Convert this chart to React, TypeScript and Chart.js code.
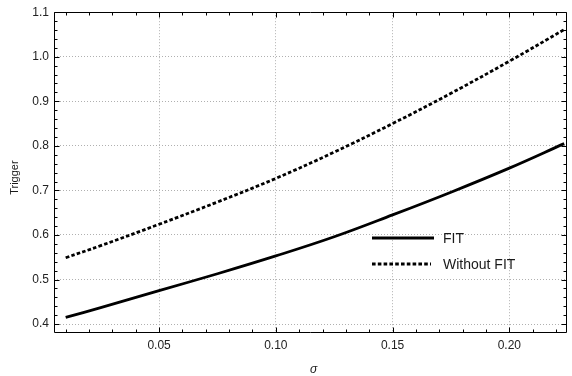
import React, { useEffect, useRef } from "react";
import { Chart, registerables } from "chart.js";

Chart.register(...registerables);

const sigma = [0.01, 0.025, 0.05, 0.075, 0.10, 0.125, 0.15, 0.175, 0.20, 0.2235];
const fit = [0.415, 0.437, 0.475, 0.513, 0.553, 0.596, 0.645, 0.696, 0.750, 0.805];
const withoutFit = [0.549, 0.576, 0.624, 0.674, 0.727, 0.786, 0.850, 0.918, 0.990, 1.061];

const xMajorTicks = [0.05, 0.10, 0.15, 0.20];
const yMajorTicks = [0.4, 0.5, 0.6, 0.7, 0.8, 0.9, 1.0, 1.1];
const xMinorTicks = [0.01, 0.02, 0.03, 0.04, 0.06, 0.07, 0.08, 0.09, 0.11, 0.12, 0.13, 0.14, 0.16, 0.17, 0.18, 0.19, 0.21, 0.22];
const yMinorTicks = [0.42, 0.44, 0.46, 0.48, 0.52, 0.54, 0.56, 0.58, 0.62, 0.64, 0.66, 0.68, 0.72, 0.74, 0.76, 0.78, 0.82, 0.84, 0.86, 0.88, 0.92, 0.94, 0.96, 0.98, 1.02, 1.04, 1.06, 1.08];

const seriesNames = ["FIT", "Without FIT"];
const xTitle = "σ";
const yTitle = "Trigger";

const FONT = "'Liberation Sans', Arial, sans-serif";

const framePlugin = {
  id: "framePlugin",
  afterDraw(chart: any) {
    const ctx = chart.ctx;
    const { left, right, top, bottom } = chart.chartArea;
    const xs = chart.scales.x;
    const ys = chart.scales.y;
    ctx.save();
    ctx.strokeStyle = "#000";
    ctx.lineWidth = 1;
    ctx.setLineDash([]);
    const L = Math.round(left) + 0.5;
    const R = Math.round(right) - 0.5;
    const T = Math.round(top) + 0.5;
    const B = Math.round(bottom) - 0.5;
    ctx.beginPath();
    ctx.rect(L, T, R - L, B - T);
    ctx.stroke();
    ctx.beginPath();
    const xt = (v: number, len: number) => {
      const px = Math.round(xs.getPixelForValue(v)) + 0.5;
      ctx.moveTo(px, B);
      ctx.lineTo(px, B - len);
      ctx.moveTo(px, T);
      ctx.lineTo(px, T + len);
    };
    const yt = (v: number, len: number) => {
      const py = Math.round(ys.getPixelForValue(v)) + 0.5;
      ctx.moveTo(L, py);
      ctx.lineTo(L + len, py);
      ctx.moveTo(R, py);
      ctx.lineTo(R - len, py);
    };
    xMajorTicks.forEach((v) => xt(v, 5));
    xMinorTicks.forEach((v) => xt(v, 3));
    yMajorTicks.forEach((v) => yt(v, 5));
    yMinorTicks.forEach((v) => yt(v, 3));
    ctx.stroke();

    // legend
    const ds = chart.data.datasets;
    const lx0 = 372;
    const lx1 = 434;
    const ly = [238, 264];
    ctx.font = `14px ${FONT}`;
    ctx.fillStyle = "#1a1a1a";
    ctx.textBaseline = "middle";
    ctx.textAlign = "left";
    ds.forEach((d: any, i: number) => {
      ctx.beginPath();
      ctx.lineWidth = d.borderWidth;
      ctx.strokeStyle = d.borderColor;
      ctx.setLineDash(d.borderDash || []);
      ctx.moveTo(lx0, ly[i]);
      ctx.lineTo(i === 0 ? lx1 : lx1 - 3, ly[i]);
      ctx.stroke();
      ctx.setLineDash([]);
      ctx.fillText(d.label, 443, ly[i] + 1);
    });

    // axis titles
    ctx.fillStyle = "#1a1a1a";
    ctx.font = `italic 12px ${FONT}`;
    ctx.textAlign = "center";
    ctx.textBaseline = "alphabetic";
    ctx.fillText(xTitle, (left + right) / 2 + 3, 373);
    ctx.save();
    ctx.translate(15, (top + bottom) / 2 + 5);
    ctx.rotate(-Math.PI / 2);
    ctx.font = `11px ${FONT}`;
    ctx.textBaseline = "middle";
    ctx.fillText(yTitle, 0, 0);
    ctx.restore();
    ctx.restore();
  },
};

export default function App() {
  const ref = useRef<HTMLCanvasElement | null>(null);
  useEffect(() => {
    document.body.style.margin = "0";
    const canvas = ref.current;
    if (!canvas) return;
    const chart = new Chart(canvas, {
      type: "line",
      data: {
        datasets: [
          {
            label: seriesNames[0],
            data: sigma.map((x, i) => ({ x, y: fit[i] })),
            borderColor: "#000",
            borderWidth: 2.8,
            pointRadius: 0,
            tension: 0.4,
            fill: false,
          },
          {
            label: seriesNames[1],
            data: sigma.map((x, i) => ({ x, y: withoutFit[i] })),
            borderColor: "#000",
            borderWidth: 2.8,
            borderDash: [3.6, 2.2],
            pointRadius: 0,
            tension: 0.4,
            fill: false,
          },
        ],
      },
      options: {
        responsive: false,
        animation: false,
        layout: { padding: { top: 11, right: 5, left: 0, bottom: 0 } },
        plugins: { legend: { display: false }, tooltip: { enabled: false } },
        scales: {
          x: {
            type: "linear",
            min: 0.005,
            max: 0.2247,
            afterBuildTicks: (s: any) => {
              s.ticks = xMajorTicks.map((v) => ({ value: v }));
            },
            afterFit: (s: any) => {
              s.height = 43;
            },
            ticks: {
              callback: (v: any) => Number(v).toFixed(2),
              font: { family: FONT, size: 12 },
              color: "#222",
              padding: 5,
              maxRotation: 0,
              autoSkip: false,
            },
            grid: { color: "#b0b0b0", lineWidth: 1, drawTicks: false },
            border: { display: false, dash: [1, 2] },
          },
          y: {
            type: "linear",
            min: 0.38,
            max: 1.1,
            afterBuildTicks: (s: any) => {
              s.ticks = yMajorTicks.map((v) => ({ value: v }));
            },
            afterFit: (s: any) => {
              s.width = 54;
            },
            ticks: {
              callback: (v: any) => Number(v).toFixed(1),
              font: { family: FONT, size: 12 },
              color: "#222",
              padding: 5,
              autoSkip: false,
            },
            grid: { color: "#b0b0b0", lineWidth: 1, drawTicks: false },
            border: { display: false, dash: [1, 2] },
          },
        },
      },
      plugins: [framePlugin],
    });
    return () => chart.destroy();
  }, []);
  return <canvas ref={ref} width={572} height={376} />;
}
